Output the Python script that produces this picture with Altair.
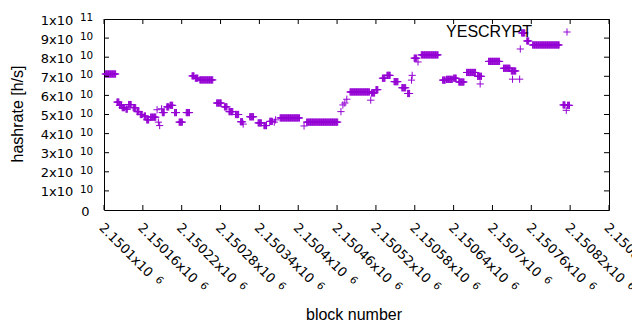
import altair as alt
import pandas as pd

# ---------------- data ----------------
FIRST_BLOCK = 2150100
# runs of consecutive blocks (offset from FIRST_BLOCK) sharing one hashrate estimate (x1e10 h/s)
run_start = [2, 20, 24, 28, 34, 38, 45, 51, 56, 62, 66, 72, 82, 84, 86, 89, 90, 97, 102, 109,
             116, 127, 136, 141, 148, 174, 186, 193, 203, 211, 215, 225, 238, 247, 256, 263, 265,
             272, 309, 313, 366, 369, 372, 375, 380, 412, 413, 420, 430, 437, 448, 460, 469, 475,
             476, 479, 485, 490, 523, 529, 540, 548, 560, 577, 581, 594, 617, 629, 631, 642, 643,
             645, 653, 662, 709, 716, 714]
run_end = [18, 23, 27, 32, 36, 42, 49, 54, 59, 64, 69, 80, 82, 84, 86, 89, 93, 100, 106, 112,
           121, 132, 139, 145, 168, 181, 190, 199, 208, 214, 215, 231, 243, 251, 260, 263, 265,
           302, 309, 361, 366, 369, 372, 375, 410, 412, 418, 423, 434, 442, 454, 466, 472, 475,
           476, 483, 485, 516, 527, 538, 544, 556, 574, 583, 581, 611, 627, 636, 631, 642, 643,
           650, 656, 703, 712, 719, 714]
run_value = [7.12, 5.65, 5.48, 5.36, 5.28, 5.52, 5.36, 5.15, 5.00, 4.92, 4.72, 4.86, 5.25, 4.60,
             4.42, 5.30, 5.10, 5.40, 5.48, 5.10, 4.60, 5.10, 7.02, 6.90, 6.81, 5.60, 5.40, 5.15,
             5.00, 4.62, 4.50, 4.88, 4.56, 4.42, 4.64, 4.60, 4.72, 4.82, 4.40, 4.60, 5.15, 5.50,
             5.60, 5.80, 6.18, 5.75, 6.13, 6.30, 6.90, 7.05, 6.72, 6.40, 6.10, 6.80, 7.05, 7.95,
             7.75, 8.12, 6.80, 6.84, 6.90, 6.70, 7.20, 7.00, 6.60, 7.78, 7.42, 7.28, 6.85, 6.85,
             8.43, 9.27, 8.85, 8.64, 5.50, 5.48, 5.22]

x_tick_values = [2150100, 2150160, 2150220, 2150280, 2150340, 2150400, 2150460, 2150520,
                 2150580, 2150640, 2150700, 2150760, 2150820, 2150880]
x_tick_mantissa = ["2.1501", "2.15016", "2.15022", "2.15028", "2.15034", "2.1504", "2.15046",
                   "2.15052", "2.15058", "2.15064", "2.1507", "2.15076", "2.15082", "2.15088"]
x_tick_exp = "6"
y_tick_values = [0, 1e10, 2e10, 3e10, 4e10, 5e10, 6e10, 7e10, 8e10, 9e10, 1e11]
y_tick_base = ["0", "1x10", "2x10", "3x10", "4x10", "5x10", "6x10", "7x10", "8x10", "9x10", "1x10"]
y_tick_exp = ["", "10", "10", "10", "10", "10", "10", "10", "10", "10", "11"]

X_DOMAIN = [2150100, 2150880]
Y_DOMAIN = [0, 1e11]
series_name = "YESCRYPT"
x_title = "block number"
y_title = "hashrate [h/s]"

# ---------------- build tables ----------------
rows = []
for s, e, v in zip(run_start, run_end, run_value):
    for b in range(s, e + 1):
        rows.append({"block": FIRST_BLOCK + b, "hashrate": v * 1e10})
pts = pd.DataFrame(rows)

xt = pd.DataFrame({"block": x_tick_values,
                   "label": [m + "x10" for m in x_tick_mantissa],
                   "exp": [x_tick_exp] * len(x_tick_values),
                   "short": [len(m) == 6 for m in x_tick_mantissa]})
yt = pd.DataFrame({"hashrate": y_tick_values, "base": y_tick_base, "exp": y_tick_exp})

W, H = 505, 191
PURPLE = "#9400d3"
TICK_FONT = "DejaVu Sans"
TITLE_FONT = "Liberation Sans"
FS = 13
FS_EXP = 10.4

xs = alt.Scale(domain=X_DOMAIN, nice=False, zero=False)
ys = alt.Scale(domain=Y_DOMAIN, nice=False)
X = lambda: alt.X("block:Q", scale=xs, axis=None)
Y = lambda: alt.Y("hashrate:Q", scale=ys, axis=None)

plus = "M-1,0L1,0M0,-1L0,1"
points = alt.Chart(pts).mark_point(shape=plus, size=52, filled=False, strokeWidth=1,
                                   color=PURPLE, opacity=1).encode(x=X(), y=Y())

tick_len = 5
xticks_b = alt.Chart(xt).mark_rule(color="black", strokeWidth=1).encode(
    x=X(), y=alt.value(H), y2=alt.value(H - tick_len))
xticks_t = alt.Chart(xt).mark_rule(color="black", strokeWidth=1).encode(
    x=X(), y=alt.value(0), y2=alt.value(tick_len))
yt_inner = yt[(yt.hashrate > 0) & (yt.hashrate < 1e11)]
yticks_l = alt.Chart(yt_inner).mark_rule(color="black", strokeWidth=1).encode(
    y=Y(), x=alt.value(0), x2=alt.value(tick_len))
yticks_r = alt.Chart(yt_inner).mark_rule(color="black", strokeWidth=1).encode(
    y=Y(), x=alt.value(W), x2=alt.value(W - tick_len))

ylab_base = alt.Chart(yt[yt.hashrate > 0]).mark_text(
    align="right", baseline="alphabetic", font=TICK_FONT, fontSize=FS, color="black", dy=5.5
).encode(y=Y(), x=alt.value(-30.7), text="base:N")
ylab_exp = alt.Chart(yt[yt.hashrate > 0]).mark_text(
    align="left", baseline="alphabetic", font=TICK_FONT, fontSize=FS_EXP, color="black", dy=2.1
).encode(y=Y(), x=alt.value(-24), text="exp:N")
ylab_zero = alt.Chart(yt[yt.hashrate == 0]).mark_text(
    align="right", baseline="alphabetic", font=TICK_FONT, fontSize=FS, color="black", dy=5.5
).encode(y=Y(), x=alt.value(-14.5), text="base:N")

# rotated x tick labels
digit_w = 0.636 * FS
base_long = 8 * digit_w + 0.318 * FS + 0.592 * FS
base_short = 7 * digit_w + 0.318 * FS + 0.592 * FS
DX0 = -7.9
xlab_y = H + 24.2
xlab_base = alt.Chart(xt).mark_text(
    align="left", baseline="alphabetic", angle=45, font=TICK_FONT, fontSize=FS,
    color="black", dx=DX0).encode(x=X(), y=alt.value(xlab_y), text="label:N")
xlab_exp_long = alt.Chart(xt).transform_filter("!datum.short").mark_text(
    align="left", baseline="alphabetic", angle=45, font=TICK_FONT, fontSize=FS_EXP,
    color="black", dx=DX0 + base_long + 6.7, dy=-3.4).encode(x=X(), y=alt.value(xlab_y), text="exp:N")
xlab_exp_short = alt.Chart(xt).transform_filter("datum.short").mark_text(
    align="left", baseline="alphabetic", angle=45, font=TICK_FONT, fontSize=FS_EXP,
    color="black", dx=DX0 + base_short + 6.7, dy=-3.4).encode(x=X(), y=alt.value(xlab_y), text="exp:N")

xtitle = alt.Chart(pd.DataFrame({"t": [x_title]})).mark_text(
    align="center", baseline="middle", font=TITLE_FONT, fontSize=16, color="black"
).encode(x=alt.value(250), y=alt.value(296), text="t:N")
ytitle = alt.Chart(pd.DataFrame({"t": [y_title]})).mark_text(
    align="center", baseline="middle", font=TITLE_FONT, fontSize=16, color="black", angle=270
).encode(x=alt.value(-86), y=alt.value(95), text="t:N")

key_text = alt.Chart(pd.DataFrame({"t": [series_name]})).mark_text(
    align="right", baseline="alphabetic", font=TITLE_FONT, fontSize=16, color="black"
).encode(x=alt.value(428), y=alt.value(18.3), text="t:N")
key_sym = alt.Chart(pd.DataFrame({"t": [series_name]})).mark_point(
    shape=plus, size=52, filled=False, strokeWidth=1, color=PURPLE, opacity=1
).encode(x=alt.value(463), y=alt.value(13))

chart = alt.layer(
    points, xticks_b, xticks_t, yticks_l, yticks_r,
    ylab_base, ylab_exp, ylab_zero, xlab_base, xlab_exp_long, xlab_exp_short,
    xtitle, ytitle, key_text, key_sym
).properties(
    width=W, height=H,
    padding={"left": 96, "top": 11, "right": 23, "bottom": 112},
    autosize=alt.AutoSizeParams(type="none"),
).configure_view(stroke="black", strokeWidth=1)

chart.save("out.html", embed_options={"renderer": "svg", "actions": False})
